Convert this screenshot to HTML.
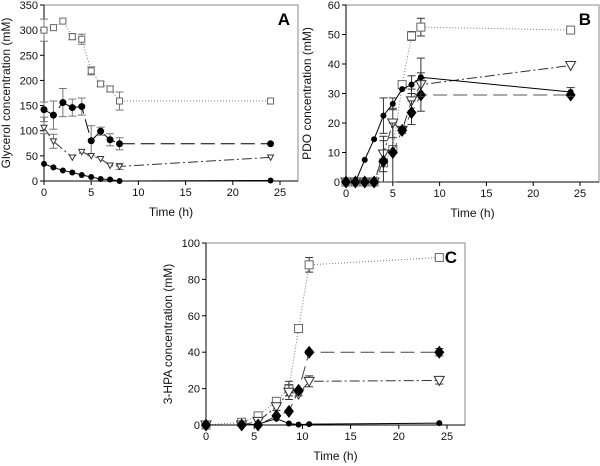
<!DOCTYPE html>
<html><head><meta charset="utf-8"><style>
html,body{margin:0;padding:0;background:#fff;}
svg{display:block;font-family:"Liberation Sans",Arial,sans-serif;}
</style></head><body>
<svg id="chart" width="600" height="466" viewBox="0 0 600 466" xmlns="http://www.w3.org/2000/svg"></svg>
<script>
// Panel A: glycerol
const aTimes = [0,1,2,3,4,5,6,7,8,24];
const aSquare = [300,305,318,287,282,219,193,183,159,159];
const aSquareErr = [22,0,0,6,10,8,5,6,18,0];
const aDiamond = [142,131,156,146,148,80,99,82,74,74];
const aDiamondErr = [15,28,28,17,17,30,8,12,12,0];
const aTriTimes = [0,1,3,4,5,6,7,8,24];
const aTri = [106,79,47,58,50,44,31,29,47];
const aTriErr = [12,14,0,0,0,0,0,6,0];
const aCircle = [34,27,21,17,12,8,4,3,0,1];
const aYTicks = [0,50,100,150,200,250,300,350];
const xTicks = [0,5,10,15,20,25];
// Panel B: PDO
const bTimes = [0,1,2,3,4,5,6,7,8,24];
const bCircle = [0,0,7.5,14.5,22.5,26.5,31.5,33,35.5,30.5];
const bCircleErr = [0,0,0,0,6,2,0,3,6.5,1.5];
const bSquare = [0,0,0,0,6.5,11,33,49.5,52.5,51.5];
const bSquareErr = [0,0,0,0,0,0,1,1.5,3,0];
const bTri = [0,0,0,0,9.5,20,17.5,27.5,33,39.5];
const bTriErr = [0,0,0,0,6,5,0,4,4,0];
const bDiamond = [0,0,0,0,7,10,17.5,23.5,29.5,29.5];
const bDiamondErr = [0,0,0,0,7,10,1,4,5.5,0];
const bYTicks = [0,10,20,30,40,50,60];
// Panel C: 3-HPA
const cTimes = [0,3.7,5.4,7.3,8.6,9.6,10.7,24.2];
const cSquare = [0,1.5,5,13,20,53,88,92];
const cSquareErr = [0,0,1,1,4,1,4,1];
const cDiamond = [0,0,0,5,7.5,19,40,40];
const cDiamondErr = [0,0,0,0,0,0,1,2];
const cTri = [0,0,2,10,18,17,24,24.5];
const cTriErr = [0,0,0,2,4,1,3,2];
const cCircle = [0,0,0.5,3.5,0.8,0.2,0.5,1];
const cYTicks = [0,20,40,60,80,100];

const NS="http://www.w3.org/2000/svg";
const svg=document.getElementById('chart');
function mk(tag,attrs,parent){const e=document.createElementNS(NS,tag);for(const k in attrs)e.setAttribute(k,attrs[k]);(parent||svg).appendChild(e);return e;}

function panel(p){
  const g=mk('g',{});
  
  
  const sx=v=>p.x0+(v-0)/25*(p.x25-p.x0);
  const sy=v=>p.y0-(v/p.ymax)*(p.y0-p.ytop);
  const fr=mk('rect',{x:p.x0,y:p.ytop,width:p.right-p.x0,height:p.y0-p.ytop,fill:'none',stroke:'#888','stroke-width':1},g);
  
  
  mk('line',{x1:p.x0,y1:p.ytop,x2:p.x0,y2:p.y0,stroke:'#000'},g);
  mk('line',{x1:p.x0,y1:p.y0,x2:p.right,y2:p.y0,stroke:'#000'},g);
  xTicks.forEach(t=>{
    mk('line',{x1:sx(t),y1:p.y0,x2:sx(t),y2:p.y0+4,stroke:'#000'},g);
    const tx=mk('text',{x:sx(t),y:p.y0+15,'font-size':11,'text-anchor':'middle',fill:'#111'},g);
    tx.textContent=t;
    
    
  });
  p.yticks.forEach(t=>{
    mk('line',{x1:p.x0-4,y1:sy(t),x2:p.x0,y2:sy(t),stroke:'#000'},g);
    const tx=mk('text',{x:p.x0-6,y:sy(t)+4,'font-size':11,'text-anchor':'end',fill:'#111'},g);
    tx.textContent=t;
    
    
  });
  const xt=mk('text',{x:(p.x0+p.right)/2,y:p.y0+35,'font-size':12,'text-anchor':'middle',fill:'#111'},g);
  xt.textContent='Time (h)';
  
  
  const yc=(p.ytop+p.y0)/2;
  const yt=mk('text',{x:p.ylx,y:yc,'font-size':12,'text-anchor':'middle',fill:'#111',transform:`rotate(-90 ${p.ylx} ${yc})`},g);
  yt.textContent=p.ylabel;
  
  
  const lt=mk('text',{x:p.right-8,y:p.ytop+20,'font-size':17,'font-weight':'bold','text-anchor':'end',fill:'#000'},g);
  lt.textContent=p.letter;
  
  
  p.series.forEach(s=>{
    const sg=mk('g',{},g);
    
    
    const pts=s.x.map((t,i)=>sx(t)+','+sy(s.y[i])).join(' ');
    mk('polyline',{points:pts,fill:'none',stroke:s.color,'stroke-width':1,'stroke-dasharray':s.dash||'none'},sg);
    if(s.err) s.x.forEach((t,i)=>{
      const e=s.err[i]; if(!e) return;
      const X=sx(t),Y1=sy(s.y[i]-e),Y2=sy(s.y[i]+e);
      mk('line',{x1:X,y1:Y1,x2:X,y2:Y2,stroke:s.errColor||'#333'},sg);
      mk('line',{x1:X-4,y1:Y1,x2:X+4,y2:Y1,stroke:s.errColor||'#333'},sg);
      mk('line',{x1:X-4,y1:Y2,x2:X+4,y2:Y2,stroke:s.errColor||'#333'},sg);
    });
    const r=s.r;
    s.x.forEach((t,i)=>{
      const X=sx(t),Y=sy(s.y[i]);let m;
      if(s.marker==='square') m=mk('rect',{x:X-r,y:Y-r,width:2*r,height:2*r,fill:'#fff',stroke:'#666'},sg);
      else if(s.marker==='diamond') m=mk('polygon',{points:`${X},${Y-r*1.3} ${X+r},${Y} ${X},${Y+r*1.3} ${X-r},${Y}`,fill:'#000'},sg);
      else if(s.marker==='tri') m=mk('polygon',{points:`${X-r},${Y-r*0.8} ${X+r},${Y-r*0.8} ${X},${Y+r}`,fill:'#fff',stroke:'#333'},sg);
      else m=mk('circle',{cx:X,cy:Y,r:r,fill:'#000'},sg);
      
      
    });
  });
}

panel({name:'panel-a-glycerol',letter:'A',x0:44,x25:280,right:298,y0:181,ytop:5,ymax:350,yticks:aYTicks,ylx:10,ylabel:'Glycerol concentration (mM)',
 series:[
  {name:'series-square',x:aTimes,y:aSquare,err:aSquareErr,marker:'square',r:3,color:'#777',dash:'1,2',errColor:'#777'},
  {name:'series-diamond',x:aTimes,y:aDiamond,err:aDiamondErr,marker:'circle',r:3.5,color:'#000',dash:'14,6',errColor:'#777'},
  {name:'series-triangle',x:aTriTimes,y:aTri,err:aTriErr,marker:'tri',r:3,color:'#333',dash:'10,3,2,3',errColor:'#777'},
  {name:'series-circle',x:aTimes,y:aCircle,marker:'circle',r:3,color:'#000'}
 ]});
panel({name:'panel-b-pdo',letter:'B',x0:346,x25:580,right:599,y0:182,ytop:5,ymax:60,yticks:bYTicks,ylx:311,ylabel:'PDO concentration (mM)',
 series:[
  {name:'series-square',x:bTimes,y:bSquare,err:bSquareErr,marker:'square',r:4,color:'#777',dash:'1,2'},
  {name:'series-triangle',x:bTimes,y:bTri,err:bTriErr,marker:'tri',r:5,color:'#333',dash:'10,3,2,3'},
  {name:'series-diamond',x:bTimes,y:bDiamond,err:bDiamondErr,marker:'diamond',r:5,color:'#555',dash:'14,6'},
  {name:'series-circle',x:bTimes,y:bCircle,err:bCircleErr,marker:'circle',r:3,color:'#000'}
 ]});
panel({name:'panel-c-3hpa',letter:'C',x0:206,x25:447,right:465,y0:425,ytop:243,ymax:100,yticks:cYTicks,ylx:172,ylabel:'3-HPA concentration (mM)',
 series:[
  {name:'series-square',x:cTimes,y:cSquare,err:cSquareErr,marker:'square',r:4,color:'#777',dash:'1,2'},
  {name:'series-triangle',x:cTimes,y:cTri,err:cTriErr,marker:'tri',r:5,color:'#333',dash:'10,3,2,3'},
  {name:'series-diamond',x:cTimes,y:cDiamond,err:cDiamondErr,marker:'diamond',r:5,color:'#444',dash:'14,6'},
  {name:'series-circle',x:cTimes,y:cCircle,marker:'circle',r:3,color:'#000'}
 ]});
</script>
</body></html>
